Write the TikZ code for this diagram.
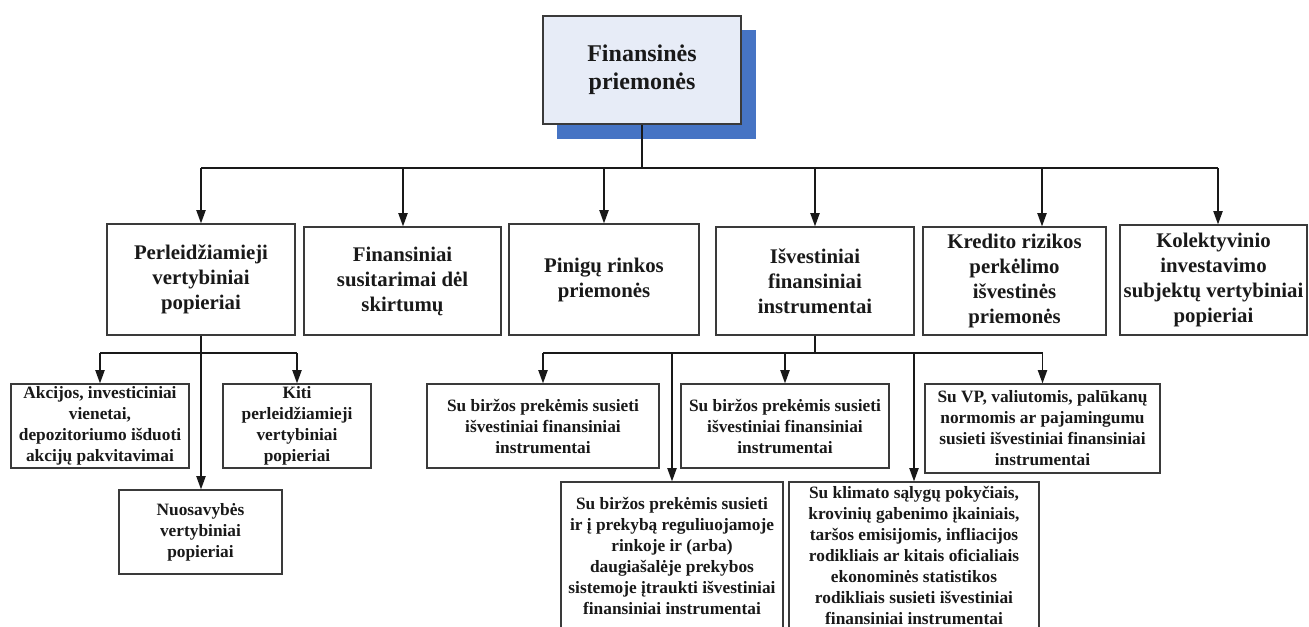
\documentclass[tikz,border=0pt]{standalone}
\usepackage{fontspec}
\setmainfont{Liberation Serif}
\usetikzlibrary{arrows.meta}
\definecolor{shadowblue}{RGB}{70,116,196}
\definecolor{topfill}{RGB}{231,236,247}
\definecolor{edgegray}{RGB}{58,58,58}
\definecolor{inkblack}{RGB}{25,25,25}
% box given by its corners (x1,y1) and (x2,y2) in picture units
\newcommand\cornerbox[7]{%
  \node[#1, minimum width={(#5-#3)*0.75pt}, minimum height={(#6-#4)*0.75pt}]
    (#2) at ({(#3+#5)/2},{(#4+#6)/2}) {#7};}
\begin{document}
\begin{tikzpicture}[x=0.75pt,y=-0.75pt,
  box/.style={draw=edgegray, line width=1pt, fill=white, inner sep=0pt,
    align=center, text=inkblack},
  topbox/.style={box, fill=topfill, font=\bfseries\fontsize{18}{21}\selectfont},
  shadebox/.style={fill=shadowblue, inner sep=0pt},
  lvlone/.style={box, font=\bfseries\fontsize{15.6}{18.75}\selectfont},
  lvltwo/.style={box, font=\bfseries\fontsize{13}{15.75}\selectfont},
  link/.style={line width=1pt, draw=inkblack},
  arr/.style={link, -{Triangle[length=10pt,width=7pt]}}]
\useasboundingbox (0,0) rectangle (1309,626);
\clip (0,0) rectangle (1309,626);

% root with its offset shadow
\cornerbox{shadebox}{rootshadow}{557}{30}{756}{139}{}
\cornerbox{topbox}{root}{543}{16}{741}{124}{Finansinės\\priemonės}

% first level
\cornerbox{lvlone}{b1}{107}{224}{295}{335}{Perleidžiamieji\\vertybiniai\\popieriai}
\cornerbox{lvlone}{b2}{304}{227}{501}{335}{Finansiniai\\susitarimai dėl\\skirtumų}
\cornerbox{lvlone}{b3}{509}{224}{699}{335}{Pinigų rinkos\\priemonės}
\cornerbox{lvlone}{b4}{716}{227}{914}{335}{Išvestiniai\\finansiniai\\instrumentai}
\cornerbox{lvlone}{b5}{923}{227}{1106}{335}{Kredito rizikos\\perkėlimo\\išvestinės\\priemonės}
\cornerbox{lvlone}{b6}{1120}{225}{1307}{335}{Kolektyvinio\\investavimo\\subjektų vertybiniai\\popieriai}

% second level: transferable securities
\cornerbox{lvltwo}{akc}{11}{384}{189}{468}{Akcijos, investiciniai\\vienetai,\\depozitoriumo išduoti\\akcijų pakvitavimai}
\cornerbox{lvltwo}{kiti}{223}{384}{371}{468}{Kiti\\perleidžiamieji\\vertybiniai\\popieriai}
\cornerbox{lvltwo}{nuos}{119}{490}{282}{574}{Nuosavybės\\vertybiniai\\popieriai}

% second level: derivatives
\cornerbox{lvltwo}{sb1}{427}{384}{659}{468}{Su biržos prekėmis susieti\\išvestiniai finansiniai\\instrumentai}
\cornerbox{lvltwo}{sb2}{681}{384}{889}{468}{Su biržos prekėmis susieti\\išvestiniai finansiniai\\instrumentai}
\cornerbox{lvltwo}{vp}{925}{384}{1160}{473}{Su VP, valiutomis, palūkanų\\normomis ar pajamingumu\\susieti išvestiniai finansiniai\\instrumentai}
\cornerbox{lvltwo}{sb3}{561}{482}{783}{629}{Su biržos prekėmis susieti\\ir į prekybą reguliuojamoje\\rinkoje ir (arba)\\daugiašalėje prekybos\\sistemoje įtraukti išvestiniai\\finansiniai instrumentai}
\cornerbox{lvltwo}{klim}{789}{482}{1039}{628}{Su klimato sąlygų pokyčiais,\\krovinių gabenimo įkainiais,\\taršos emisijomis, infliacijos\\rodikliais ar kitais oficialiais\\ekonominės statistikos\\rodikliais susieti išvestiniai\\finansiniai instrumentai}

% top bus
\coordinate (hub) at (642,168);
\coordinate (t1) at (201,168);
\coordinate (t2) at (403,168);
\coordinate (t3) at (604,168);
\coordinate (t4) at (815,168);
\coordinate (t5) at (1042,168);
\coordinate (t6) at (1218,168);
\draw[link] (root.south) -- (hub);
\draw[link] (t1) -- (t6);
\foreach \i in {1,...,6}
  \draw[arr] (t\i) -- (t\i |- b\i.north);

% lower buses
\coordinate (lowbus) at (0,353);
\draw[link] (akc.north |- lowbus) -- (kiti.north |- lowbus);
\draw[arr] (akc.north |- lowbus) -- (akc.north);
\draw[arr] (kiti.north |- lowbus) -- (kiti.north);
\draw[arr] (b1.south) -- (b1.south |- nuos.north);

\draw[link] (b4.south) -- (b4.south |- lowbus);
\draw[link] (sb1.north |- lowbus) -- (vp.north |- lowbus);
\foreach \n in {sb1,sb2,sb3,klim,vp}
  \draw[arr] (\n.north |- lowbus) -- (\n.north);
\end{tikzpicture}
\end{document}
